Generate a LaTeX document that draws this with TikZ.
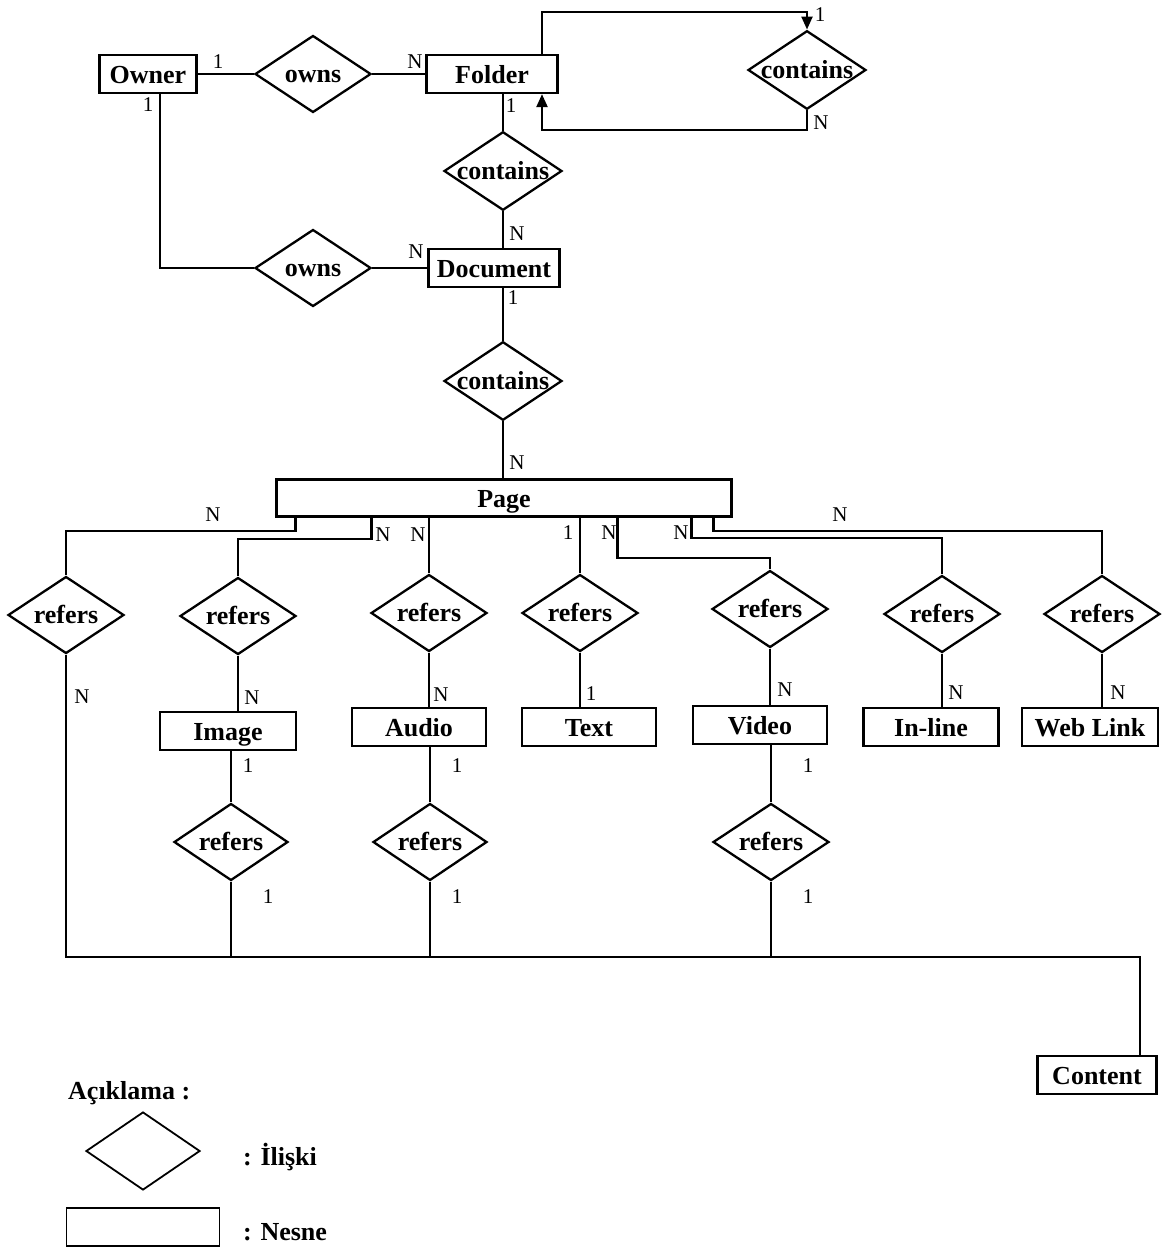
\documentclass[tikz,border=0pt]{standalone}
\usepackage{fontspec}
\setmainfont{Liberation Serif}
\usetikzlibrary{shapes.geometric,arrows.meta,calc}
\begin{document}
\begin{tikzpicture}[x=1pt,y=-1pt,
  ent/.style={draw,line width=2.3pt,minimum height=38pt,inner sep=0pt,text height=18pt,text depth=0pt,font=\fontsize{26}{30}\selectfont\bfseries},
  rel/.style={draw,diamond,line width=2.3pt,shape aspect=1.5,minimum width=116pt,minimum height=77pt,inner sep=0pt,text height=17pt,text depth=0pt,font=\fontsize{26}{30}\selectfont\bfseries},
  lbl/.style={font=\fontsize{21}{24}\selectfont,inner sep=0pt},
  legt/.style={font=\fontsize{26}{30}\selectfont\bfseries,inner sep=0pt,anchor=west},
  conn/.style={line width=2.3pt},
  arr/.style={conn,-{Triangle[length=13pt,width=11pt]}}
]
\useasboundingbox[fill=white] (0,0) rectangle (1174,1250);

% ---- top part
\node[ent,minimum width=97pt] (owner) at (148,74) {Owner};
\node[rel] (owns1) at (313,74) {owns};
\node[ent,minimum width=131pt] (folder) at (492,74) {Folder};
\node[rel] (c1) at (503,171) {contains};
\node[rel,minimum width=112pt,minimum height=75pt] (c2) at (807,70) {contains};
\node[rel] (owns2) at (313,268) {owns};
\node[ent,minimum width=131pt] (doc) at (494,268) {Document};
\node[rel] (c3) at (503,381) {contains};
\node[ent,minimum width=455pt,minimum height=37pt] (page) at (504,498) {Page};

\coordinate (ownL) at (160,0);
\coordinate (lt) at (542,12);
\coordinate (lb) at (542,130);

\draw[conn] (owner.east) -- (owns1.west);
\draw[conn] (owns1.east) -- (folder.west);
\draw[conn] (owner.south -| ownL) |- (owns2.west);
\draw[conn] (owns2.east) -- (doc.west);
\draw[conn] (folder.south -| c1.north) -- (c1.north);
\draw[conn] (c1.south) -- (c1.south |- doc.north);
\draw[arr] (folder.north -| lt) -- (lt) -| (c2.north);
\draw[arr] (c2.south) |- (lb) -- (folder.south -| lb);
\draw[conn] (doc.south -| c3.north) -- (c3.north);
\draw[conn] (c3.south) -- (c3.south |- page.north);

\node[lbl] at (218,62) {1};
\node[lbl] at (415,62) {N};
\node[lbl] at (148,105) {1};
\node[lbl] at (511,106) {1};
\node[lbl] at (517,234) {N};
\node[lbl] at (416,252) {N};
\node[lbl] at (820,15) {1};
\node[lbl] at (821,123) {N};
\node[lbl] at (513,298) {1};
\node[lbl] at (517,463) {N};

% ---- refers row
\node[rel] (r1) at (66,615) {refers};
\node[rel] (r2) at (238,616) {refers};
\node[rel] (r3) at (429,613) {refers};
\node[rel] (r4) at (580,613) {refers};
\node[rel] (r5) at (770,609) {refers};
\node[rel] (r6) at (942,614) {refers};
\node[rel] (r7) at (1102,614) {refers};

\draw[conn] ($(page.south west)+(20,0)$) -- ++(0,13) -| (r1.north);
\draw[conn] ($(page.south west)+(96,0)$) -- ++(0,21) -| (r2.north);
\draw[conn] (page.south -| r3.north) -- (r3.north);
\draw[conn] (page.south -| r4.north) -- (r4.north);
\draw[conn] ($(page.south west)+(342,0)$) -- ++(0,40) -| (r5.north);
\draw[conn] ($(page.south west)+(416,0)$) -- ++(0,20) -| (r6.north);
\draw[conn] ($(page.south west)+(438,0)$) -- ++(0,13) -| (r7.north);

\node[lbl] at (213,515) {N};
\node[lbl] at (383,535) {N};
\node[lbl] at (418,535) {N};
\node[lbl] at (568,533) {1};
\node[lbl] at (609,533) {N};
\node[lbl] at (681,533) {N};
\node[lbl] at (840,515) {N};

% ---- entity row
\node[ent,minimum width=136pt] (img) at (228,731) {Image};
\node[ent,minimum width=134pt] (aud) at (419,727) {Audio};
\node[ent,minimum width=134pt] (txt) at (589,727) {Text};
\node[ent,minimum width=134pt] (vid) at (760,725) {Video};
\node[ent,minimum width=135pt] (inl) at (931,727) {In-line};
\node[ent,minimum width=136pt] (web) at (1090,727) {Web Link};

\draw[conn] (r2.south) -- (r2.south |- img.north);
\draw[conn] (r3.south) -- (r3.south |- aud.north);
\draw[conn] (r4.south) -- (r4.south |- txt.north);
\draw[conn] (r5.south) -- (r5.south |- vid.north);
\draw[conn] (r6.south) -- (r6.south |- inl.north);
\draw[conn] (r7.south) -- (r7.south |- web.north);

\node[lbl] at (82,697) {N};
\node[lbl] at (252,698) {N};
\node[lbl] at (441,695) {N};
\node[lbl] at (591,694) {1};
\node[lbl] at (785,690) {N};
\node[lbl] at (956,693) {N};
\node[lbl] at (1118,693) {N};

% ---- lower refers
\node[rel,minimum width=114pt] (l1) at (231,842) {refers};
\node[rel,minimum width=114pt] (l2) at (430,842) {refers};
\node[rel,minimum width=116pt] (l3) at (771,842) {refers};
\node[ent,minimum width=119pt] (content) at (1097,1075) {Content};
\coordinate (bus) at (1140,957);

\draw[conn] (img.south -| l1.north) -- (l1.north);
\draw[conn] (aud.south -| l2.north) -- (l2.north);
\draw[conn] (vid.south -| l3.north) -- (l3.north);
\draw[conn] (r1.south) -- (r1.south |- bus) -- (bus) -- (bus |- content.north);
\draw[conn] (l1.south) -- (l1.south |- bus);
\draw[conn] (l2.south) -- (l2.south |- bus);
\draw[conn] (l3.south) -- (l3.south |- bus);

\node[lbl] at (248,766) {1};
\node[lbl] at (457,766) {1};
\node[lbl] at (808,766) {1};
\node[lbl] at (268,897) {1};
\node[lbl] at (457,897) {1};
\node[lbl] at (808,897) {1};

% ---- legend
\node[legt] (legtitle) at (68,1093) {Açıklama :};
\node[draw,diamond,line width=1.8pt,shape aspect=1.5,minimum width=114pt,minimum height=78pt,inner sep=0pt] (legd) at (143,1151) {};
\node[legt] (legdt) at (243,1157) {: İlişki};
\node[draw,line width=1.8pt,minimum width=153pt,minimum height=38pt,inner sep=0pt] (legr) at (143,1227) {};
\node[legt] (legrt) at (243,1232) {: Nesne};
\end{tikzpicture}
\end{document}
